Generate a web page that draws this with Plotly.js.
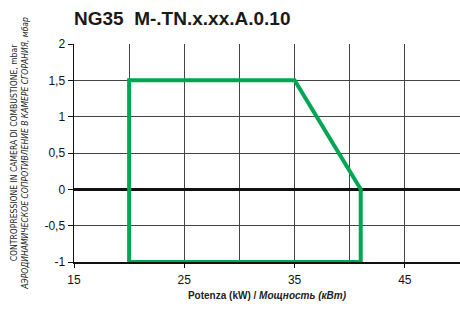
<!DOCTYPE html>
<html><head><meta charset="utf-8">
<script src="https://cdn.plot.ly/plotly-3.0.1.min.js"></script>
<style>html,body{margin:0;padding:0;background:#fff}#c{width:460px;height:309px}</style>
</head><body><div id="c"></div>
<script>
const powerKW = [20, 20, 35, 41, 41, 20];
const pressureMbar = [-1, 1.5, 1.5, 0, -1, -1];
const xTickVals = [15, 25, 35, 45];
const yTickVals = [-1, -0.5, 0, 0.5, 1, 1.5, 2];
const yTickText = ['-1', '-0,5', '0', '0,5', '1', '1,5', '2'];

const trace = {
  x: powerKW, y: pressureMbar, mode: 'lines', type: 'scatter',
  line: {color: '#00A651', width: 4}, hoverinfo: 'none'
};
const layout = {
  width: 460, height: 309,
  margin: {l: 74, r: 0, t: 44, b: 47},
  paper_bgcolor: '#fff', plot_bgcolor: '#fff',
  showlegend: false,
  font: {family: 'Liberation Sans, Arial, sans-serif', color: '#111'},
  title: {text: 'NG35&nbsp;&nbsp;M-.TN.x.xx.A.0.10', font: {size: 19, weight: 'bold', color: '#1a1a1a'},
          x: 74/460, xanchor: 'left', xref: 'container', y: 1 - 18/309, yref: 'container', yanchor: 'middle'},
  xaxis: {
    range: [15, 50], tickvals: xTickVals, showgrid: true, gridcolor: '#444', gridwidth: 1,
    minor: {dtick: 5, tick0: 15, showgrid: true, gridcolor: '#444', gridwidth: 1},
    showline: true, linecolor: '#111', linewidth: 1.5, ticks: 'outside', ticklen: 4, tickcolor: '#111',
    zeroline: false, tickfont: {size: 12, color: '#111'}, ticklabelstandoff: 2,
    title: {text: '<b>Potenza (kW) / <i>Мощность (кВт)</i></b>', font: {size: 10, color: '#222'}, standoff: 6}
  },
  yaxis: {
    range: [-1, 2], tickvals: yTickVals, ticktext: yTickText, showgrid: true, gridcolor: '#444', gridwidth: 1,
    showline: true, linecolor: '#111', linewidth: 1.5, ticks: 'outside', ticklen: 5, tickcolor: '#111',
    zeroline: true, zerolinecolor: '#111', zerolinewidth: 2.5, tickfont: {size: 12, color: '#111'},
    title: {text: 'CONTROPRESSIONE IN CAMERA DI COMBUSTIONE, mbar<br><i>АЭРОДИНАМИЧЕСКОЕ СОПРОТИВЛЕНИЕ В КАМЕРЕ СГОРАНИЯ, мбар</i>',
            font: {size: 8.5, family: 'DejaVu Sans Condensed, Liberation Sans Narrow, sans-serif', stretch: 'condensed', color: '#222'}, standoff: 14}
  }
};
Plotly.newPlot('c', [trace], layout, {staticPlot: true, displayModeBar: false});
</script></body></html>
